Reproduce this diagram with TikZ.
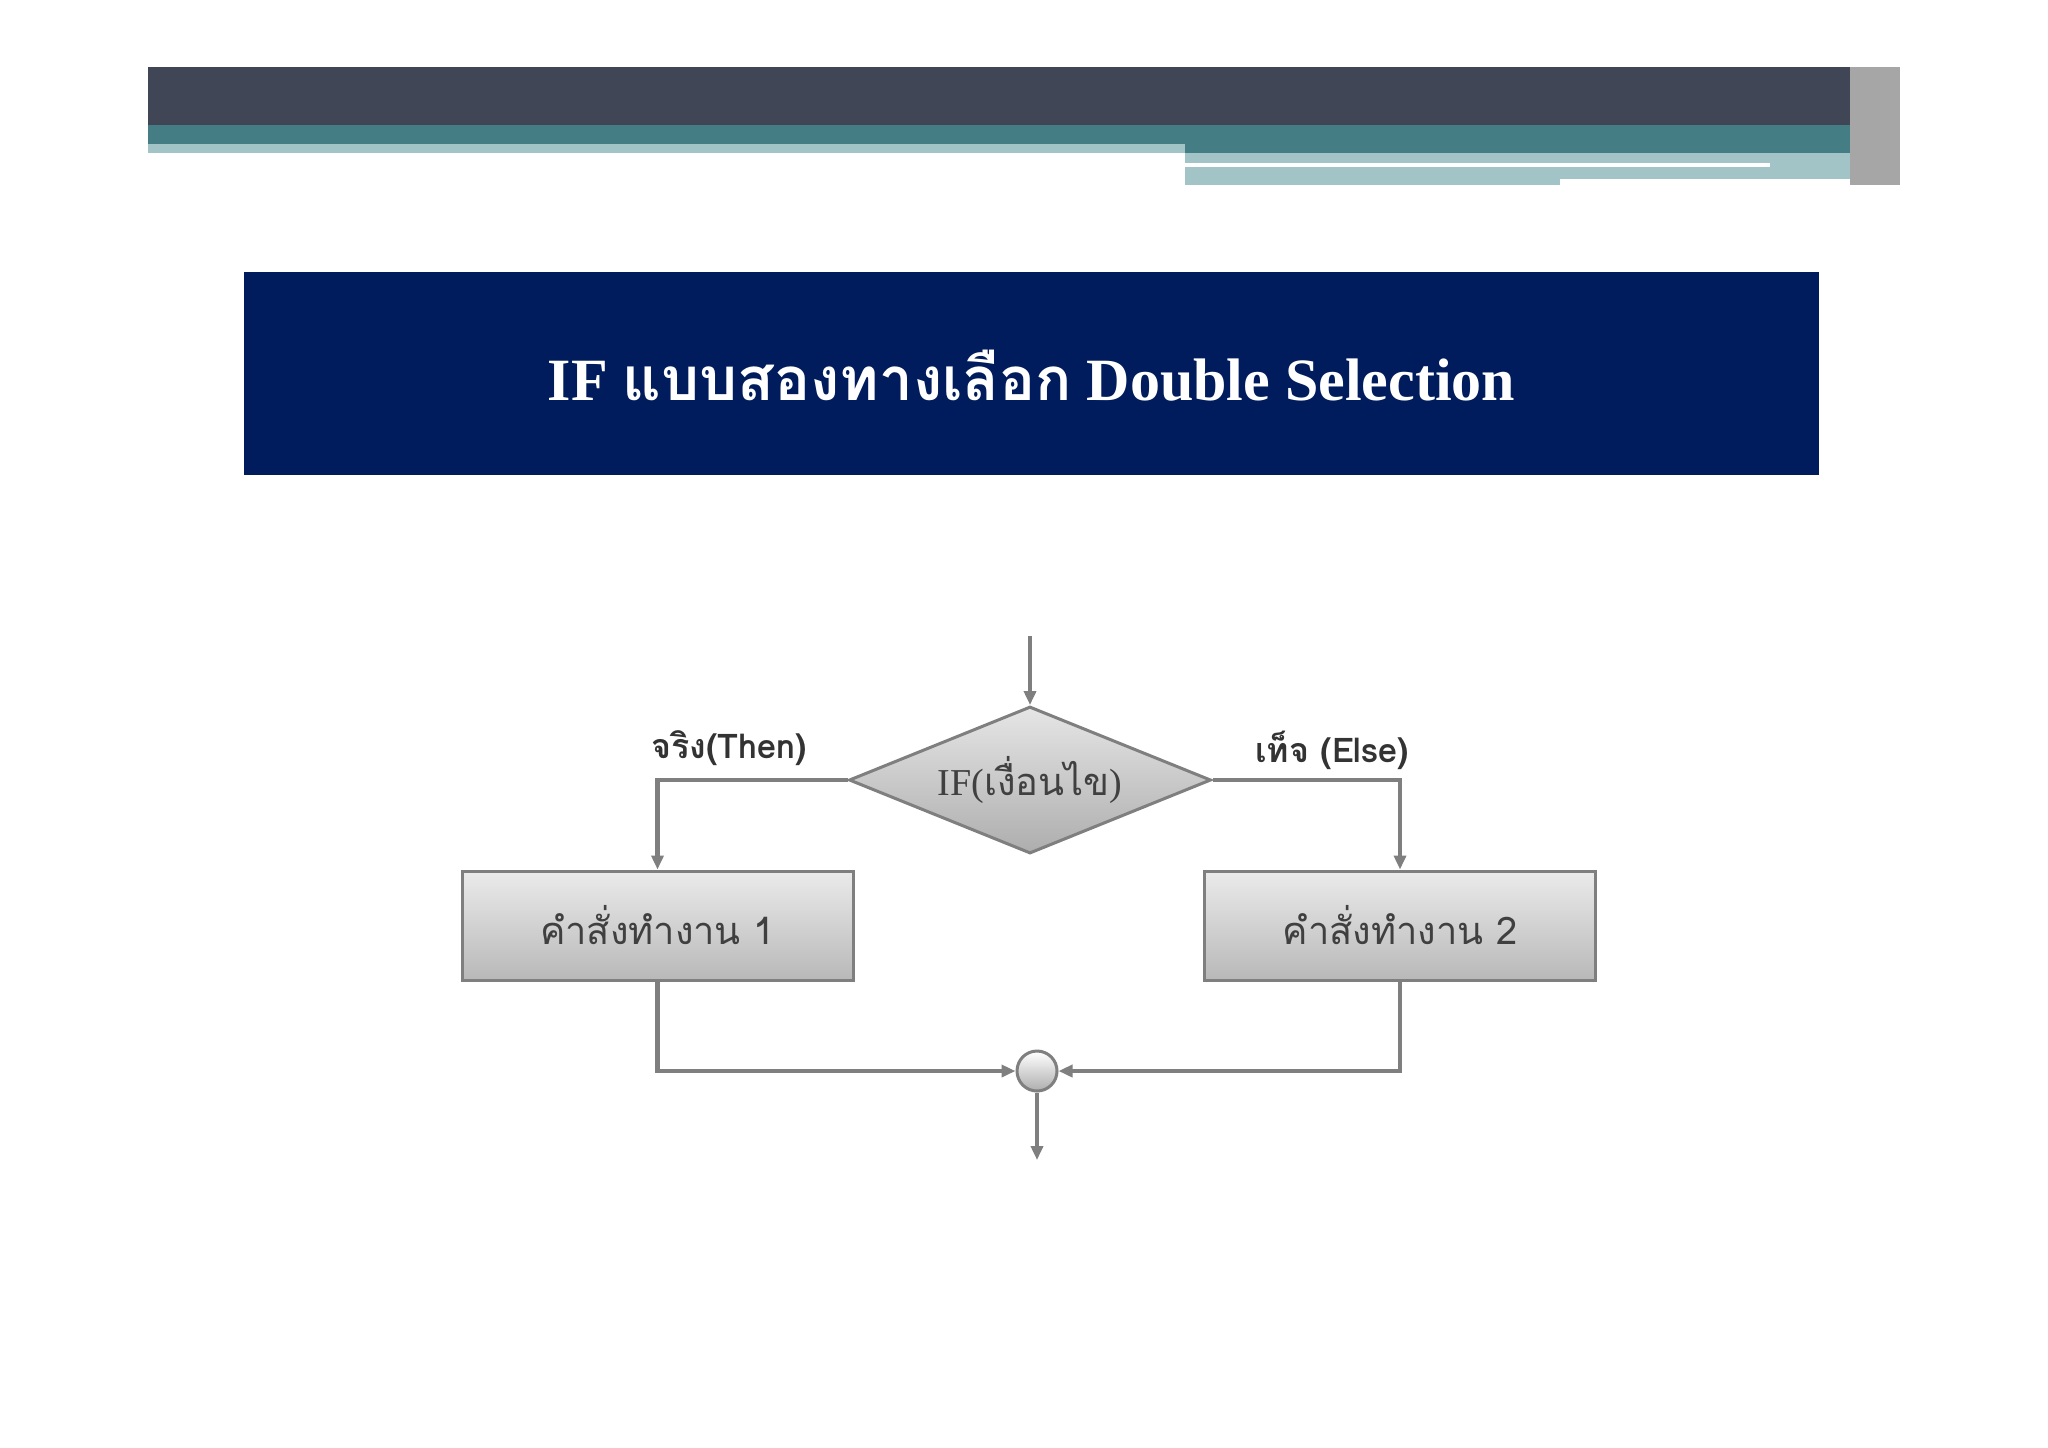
\documentclass[tikz,border=0pt]{standalone}
\usepackage{fontspec}
\setmainfont{Liberation Serif}
\newfontfamily\thaifont[Script=Thai]{Loma}
\usetikzlibrary{shapes.geometric,arrows.meta}
\definecolor{darkbar}{HTML}{414656}
\definecolor{tealbar}{HTML}{447E84}
\definecolor{lightteal}{HTML}{A3C4C6}
\definecolor{titleblue}{HTML}{011C5C}
\definecolor{boxgray}{HTML}{D9D9D9}
\definecolor{linegray}{HTML}{7F7F7F}
\tikzset{
  conn/.style={draw=linegray,line width=2.2pt},
  arr/.style={conn,-{Triangle[length=7pt,width=6pt]}},
  procbox/.style={draw=linegray,line width=1.5pt,top color=white!92!black,bottom color=boxgray!85!black,minimum width=195.5pt,minimum height=54.5pt,font=\thaifont\fontsize{19}{22}\selectfont,text=black!75},
  lbl/.style={font=\thaifont\bfseries\fontsize{17}{20}\selectfont,text=black!80}
}
\begin{document}
\begin{tikzpicture}[x=0.5pt,y=-0.5pt]
\useasboundingbox (0,0) rectangle (2048,1447);
\fill[white] (0,0) rectangle (2048,1447);
% header bars
\fill[darkbar] (148,67) rectangle (1900,125);
\fill[tealbar] (148,125) rectangle (1900,144);
\fill[lightteal] (148,144) rectangle (1185,153);
\fill[tealbar] (1185,144) rectangle (1900,153);
\fill[lightteal] (1185,153) rectangle (1900,185);
\fill[white] (1185,163) rectangle (1770,167);
\fill[white] (1560,179) rectangle (1880,185);
\fill[gray!70] (1850,67) rectangle (1900,185);
% title
\node[fill=titleblue,minimum width=787.5pt,minimum height=101.5pt,inner sep=0pt] (title) at (1031.5,373.5) {};
\node[text=white,font=\bfseries\fontsize{30}{34}\selectfont] (ttext) at (1031.5,376) {IF {\thaifont แบบสองทางเลือก} Double Selection};
% flowchart
\coordinate (start) at (1030,636);
\node[diamond,draw=linegray,line width=1.5pt,top color=white!90!black,bottom color=boxgray!80!black,minimum width=181pt,minimum height=73.5pt,inner sep=0pt,aspect=2.46] (cond) at (1030,780) {};
\node[font=\fontsize{19}{22}\selectfont,text=black!75] (condt) at (1030,780) {IF({\thaifont เงื่อนไข})};
\node[procbox] (p1) at (657.5,925.5) {คำสั่งทำงาน 1};
\node[procbox] (p2) at (1400,925.5) {คำสั่งทำงาน 2};
\node[circle,draw=linegray,line width=1.5pt,top color=white,bottom color=boxgray!80!black,minimum size=20pt,inner sep=0pt] (join) at (1037,1071) {};
\coordinate (end) at (1037,1160);
\node[lbl] (tl) at (729,748) {จริง(Then)};
\node[lbl] (el) at (1332,750) {เท็จ (Else)};
\draw[arr] (start) -- (cond.north);
\draw[arr] (cond.west) -| (p1.north);
\draw[arr] (cond.east) -| (p2.north);
\draw[arr] (p1.south) |- (join.west);
\draw[arr] (p2.south) |- (join.east);
\draw[arr] (join.south) -- (end);
\end{tikzpicture}
\end{document}
